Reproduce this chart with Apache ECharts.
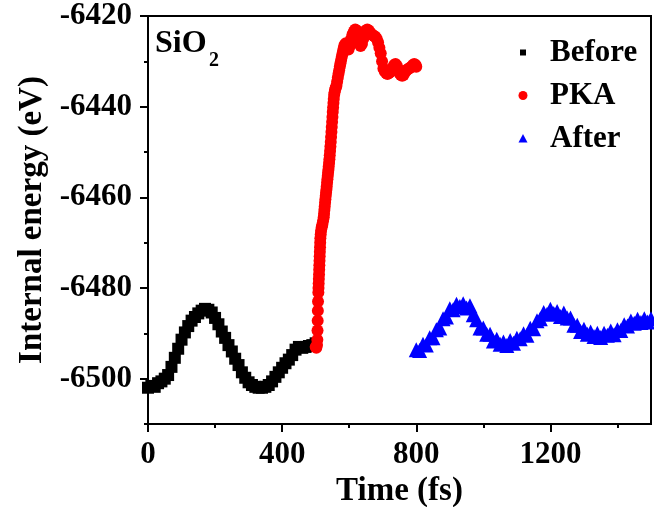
<!DOCTYPE html>
<html>
<head>
<meta charset="utf-8">
<script src="https://cdn.jsdelivr.net/npm/echarts@6/dist/echarts.min.js"></script>
<style>
html,body{margin:0;padding:0;background:#fff;}
#chart{width:654px;height:507px;}
</style>
</head>
<body>
<div id="chart"></div>
<script>
// ---- data ----
var beforeTime = [0,10,20,30,40,50,60,70,80,90,100,110,120,130,140,150,160,170,180,190,200,210,220,230,240,250,260,270,280,290,300,310,320,330,340,350,360,370,380,390,400,410,420,430,440,450,460,470,480,490,500];
var beforeEnergy = [-6502.0,-6501.6,-6501.8,-6501.0,-6500.6,-6500.0,-6499.2,-6497.4,-6495.4,-6493.4,-6491.4,-6489.8,-6488.4,-6487.2,-6486.4,-6485.6,-6485.0,-6484.6,-6484.8,-6485.4,-6486.6,-6488.0,-6489.6,-6491.0,-6492.6,-6494.0,-6495.6,-6497.0,-6498.6,-6499.8,-6500.8,-6501.4,-6501.8,-6502.0,-6502.0,-6501.8,-6501.4,-6500.6,-6499.6,-6498.6,-6497.6,-6496.6,-6495.8,-6494.8,-6493.6,-6493.0,-6493.2,-6493.0,-6492.8,-6492.6,-6492.2];

var pkaTime = [500,502,504,505,505.5,506,506.5,507,508,508.5,509,509.5,510,510.5,511,511.5,512,512.5,513,513.5,514,515,516,518,520,522,524,525,526,527,528,529,530,531,532,533,534,535,536,537,538,539,540,541,542,543,544,545,546,547,548,549,550,551,552,553,554,555,556.5,558,560,562,564,566,568,570,572,574,576,578,580,582,584,586,590,594,598,602,606,610,614,618,622,626,630,634,638,642,646,650,654,658,662,666,670,674,678,682,686,690,694,698,702,706,710,714,718,722,726,730,734,738,742,746,750,754,758,762,766,770,774,778,782,786,790,794,798,800];
var pkaEnergy = [-6493.0,-6493.2,-6492.6,-6491.4,-6489.4,-6487.2,-6485.0,-6483.0,-6481.0,-6480.0,-6479.0,-6478.0,-6477.0,-6476.0,-6475.0,-6474.0,-6473.0,-6472.0,-6471.0,-6470.0,-6469.0,-6468.2,-6467.4,-6466.6,-6466.0,-6465.2,-6464.4,-6463.6,-6462.8,-6462.0,-6461.2,-6460.4,-6459.7,-6459.0,-6458.3,-6457.6,-6456.8,-6456.0,-6455.3,-6454.6,-6453.9,-6453.2,-6452.4,-6451.6,-6450.7,-6449.8,-6448.8,-6447.8,-6446.7,-6445.6,-6444.5,-6443.4,-6442.3,-6441.2,-6440.2,-6439.2,-6438.3,-6437.4,-6436.8,-6436.2,-6435.8,-6435.4,-6434.5,-6433.6,-6432.8,-6432.0,-6431.2,-6430.4,-6429.7,-6429.0,-6428.3,-6427.6,-6427.0,-6426.4,-6426.0,-6426.6,-6427.4,-6426.6,-6425.0,-6424.0,-6423.4,-6423.0,-6423.2,-6424.0,-6425.4,-6426.6,-6426.2,-6425.0,-6423.8,-6423.2,-6423.0,-6423.2,-6423.6,-6424.0,-6424.2,-6424.4,-6424.6,-6425.0,-6425.8,-6427.0,-6428.2,-6430.0,-6431.6,-6432.2,-6432.6,-6432.8,-6432.6,-6432.4,-6432.0,-6431.4,-6430.8,-6430.6,-6431.0,-6431.8,-6432.6,-6433.0,-6433.2,-6433.0,-6432.4,-6432.0,-6431.8,-6431.6,-6431.4,-6431.2,-6430.8,-6430.6,-6430.8,-6431.2];

var afterTime = [800,810,820,830,840,850,860,870,880,890,900,910,920,930,940,950,960,970,980,990,1000,1010,1020,1030,1040,1050,1060,1070,1080,1090,1100,1110,1120,1130,1140,1150,1160,1170,1180,1190,1200,1210,1220,1230,1240,1250,1260,1270,1280,1290,1300,1310,1320,1330,1340,1350,1360,1370,1380,1390,1400,1410,1420,1430,1440,1450,1460,1470,1480,1490,1500];
var afterEnergy = [-6493.6,-6493.8,-6492.4,-6492.6,-6491.0,-6491.0,-6489.2,-6488.8,-6486.8,-6486.4,-6484.6,-6484.8,-6483.6,-6484.1,-6483.5,-6484.4,-6483.9,-6485.9,-6487.0,-6488.8,-6488.8,-6490.2,-6490.2,-6491.7,-6491.3,-6492.4,-6491.9,-6492.7,-6491.6,-6492.2,-6491.1,-6491.2,-6490.1,-6490.4,-6488.9,-6489.0,-6487.2,-6486.8,-6485.4,-6485.8,-6484.7,-6485.6,-6485.2,-6486.3,-6485.5,-6486.6,-6486.6,-6488.2,-6488.2,-6489.6,-6489.1,-6490.2,-6489.7,-6490.7,-6490.0,-6490.9,-6490.0,-6490.4,-6489.5,-6490.3,-6489.2,-6489.4,-6488.1,-6488.4,-6487.3,-6487.8,-6486.9,-6487.6,-6486.8,-6487.5,-6486.8];

var xMajorTicks = [0,400,800,1200];
var xMinorTicks = [200,600,1000,1400];
var yMajorTicks = [-6500,-6480,-6460,-6440,-6420];
var yMinorTicks = [-6510,-6490,-6470,-6450,-6430];

function pairs(t, v){ var out=[]; for (var i=0;i<t.length;i++) out.push([t[i], v[i]]); return out; }
function plain(v){ return String(v); }

var FONT = 'Liberation Serif';
var chart = echarts.init(document.getElementById('chart'), null, {renderer:'canvas'});

var axisLineStyle = {color:'#000', width:2};
var option = {
  animation:false,
  backgroundColor:'#fff',
  grid:{left:148, right:3, top:16, bottom:83, outerBoundsMode:'none', containLabel:false, show:true, borderColor:'#000', borderWidth:2, backgroundColor:'transparent'},
  xAxis:[{
    type:'value', min:0, max:1500,
    name:'Time (fs)', nameLocation:'middle', nameGap:30,
    nameTextStyle:{fontFamily:FONT, fontWeight:'bold', fontSize:33, color:'#000'},
    axisLine:{show:true, onZero:false, lineStyle:axisLineStyle},
    axisTick:{show:true, inside:false, length:8, lineStyle:{color:'#000', width:2}, customValues:xMajorTicks},
    axisLabel:{show:true, margin:15, fontFamily:FONT, fontWeight:'bold', fontSize:31, color:'#000', customValues:xMajorTicks, formatter:plain},
    splitLine:{show:false}
  },{
    type:'value', min:0, max:1500, position:'bottom',
    axisLine:{show:false},
    axisTick:{show:true, inside:false, length:4, lineStyle:{color:'#000', width:2}, customValues:xMinorTicks},
    axisLabel:{show:false},
    splitLine:{show:false}
  }],
  yAxis:[{
    type:'value', min:-6510, max:-6420,
    name:'Internal energy (eV)', nameLocation:'middle', nameGap:89,
    nameTextStyle:{fontFamily:FONT, fontWeight:'bold', fontSize:33, color:'#000'},
    axisLine:{show:true, onZero:false, lineStyle:axisLineStyle},
    axisTick:{show:true, inside:false, length:8, lineStyle:{color:'#000', width:2}, customValues:yMajorTicks},
    axisLabel:{show:true, margin:16, fontFamily:FONT, fontWeight:'bold', fontSize:31, color:'#000', customValues:yMajorTicks, formatter:plain},
    splitLine:{show:false}
  },{
    type:'value', min:-6510, max:-6420, position:'left',
    axisLine:{show:false},
    axisTick:{show:true, inside:false, length:4, lineStyle:{color:'#000', width:2}, customValues:yMinorTicks},
    axisLabel:{show:false},
    splitLine:{show:false}
  }],
  legend:{
    orient:'vertical', left:512, top:32, itemGap:12, itemWidth:12, itemHeight:12,
    itemStyle:{opacity:1, borderWidth:0},
    textStyle:{fontFamily:FONT, fontWeight:'bold', fontSize:31, color:'#000', lineHeight:31, padding:[0,0,0,16]},
    data:[
      {name:'Before', icon:'path://M0,0L0,0M3,3L9,3L9,9L3,9ZM12,12L12,12'},
      {name:'PKA', icon:'path://M0,0L0,0M10.5,6A4.5,4.5,0,1,1,1.5,6A4.5,4.5,0,1,1,10.5,6ZM12,12L12,12'},
      {name:'After', icon:'path://M0,0L0,0M6,1.5L10.5,10L1.5,10ZM12,12L12,12'}
    ]
  },
  graphic:[
    {type:'text', left:155, top:28, style:{text:'SiO', font:'bold 32px "Liberation Serif"', fill:'#000'}},
    {type:'text', left:209, top:51, style:{text:'2', font:'bold 20px "Liberation Serif"', fill:'#000'}}
  ],
  series:[
    {name:'Before', type:'scatter', xAxisIndex:0, yAxisIndex:0, symbol:'rect', symbolSize:12,
     itemStyle:{color:'#000', opacity:1, borderWidth:0}, data:pairs(beforeTime, beforeEnergy), z:2},
    {name:'PKA', type:'scatter', xAxisIndex:0, yAxisIndex:0, symbol:'circle', symbolSize:12,
     itemStyle:{color:'#ff0000', opacity:1, borderWidth:0}, data:pairs(pkaTime, pkaEnergy), z:3},
    {name:'After', type:'scatter', xAxisIndex:0, yAxisIndex:0, symbol:'triangle', symbolSize:15,
     itemStyle:{color:'#0000ff', opacity:1, borderWidth:0}, data:pairs(afterTime, afterEnergy), z:2}
  ]
};
chart.setOption(option);
</script>
</body>
</html>
